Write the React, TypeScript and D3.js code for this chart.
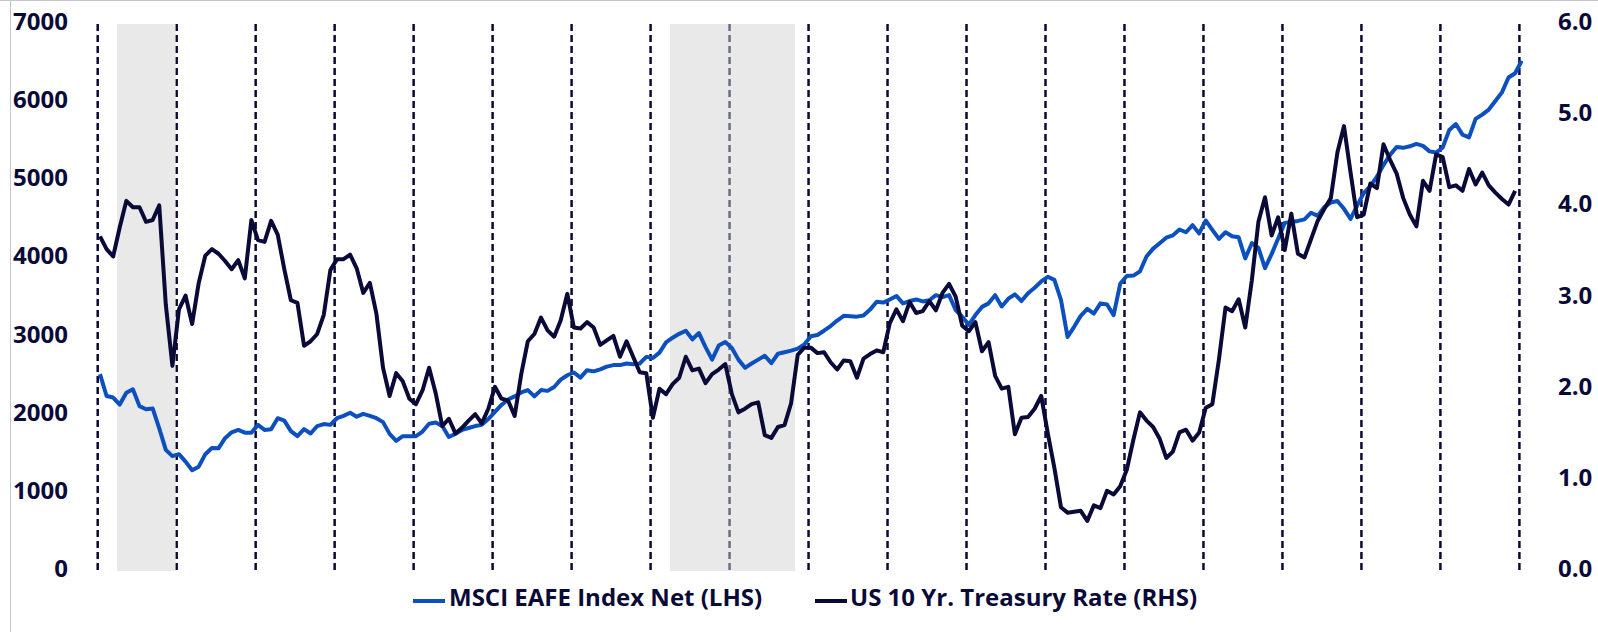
import React from "react";
import * as d3 from "d3";

// monthly observations, Jan 2008 onwards
const MSCI_EAFE = [
  2520, 2240, 2220, 2130, 2280, 2325, 2110, 2070, 2080, 1825, 1550, 1470,
  1495, 1400, 1290, 1335, 1495, 1575, 1570, 1700, 1775, 1805, 1770, 1770,
  1870, 1805, 1815, 1955, 1925, 1790, 1725, 1815, 1760, 1855, 1880, 1870,
  1955, 1985, 2025, 1975, 2010, 1985, 1955, 1905, 1755, 1665, 1725, 1725,
  1725, 1785, 1885, 1900, 1855, 1715, 1755, 1805, 1830, 1855, 1870, 1945,
  2035, 2125, 2195, 2235, 2285, 2315, 2235, 2315, 2305, 2355, 2450, 2505,
  2540, 2475, 2570, 2555, 2580, 2615, 2635, 2635, 2655, 2645, 2655, 2740,
  2725, 2795, 2925, 2985, 3035, 3075, 2965, 3045, 2865, 2705, 2885, 2930,
  2855, 2705, 2600, 2655, 2705, 2755, 2660, 2780, 2800, 2820, 2845, 2900,
  3005, 3020, 3075, 3135, 3205, 3265, 3260, 3255, 3270, 3345, 3445, 3435,
  3475, 3520, 3425, 3455, 3475, 3450, 3465, 3530, 3505, 3530, 3340, 3255,
  3150, 3275, 3380, 3425, 3530, 3385, 3485, 3540, 3455, 3555, 3625, 3705,
  3765, 3725, 3470, 2995, 3125, 3265, 3355, 3295, 3425, 3410, 3275, 3675,
  3775, 3780, 3835, 4025, 4125, 4195, 4265, 4295, 4370, 4335, 4425, 4320,
  4485, 4365, 4250, 4335, 4285, 4270, 4000, 4195, 4135, 3875, 4055, 4255,
  4455, 4465, 4480, 4500, 4585, 4545, 4655, 4715, 4735, 4635, 4505, 4675,
  4835, 4925, 5045, 5195, 5325, 5425, 5415, 5435, 5465, 5440, 5370, 5355,
  5420, 5645, 5720, 5585, 5550, 5785, 5840, 5905, 6015, 6125, 6315, 6370,
  6530,
];

const UST_10Y = [
  3.67, 3.53, 3.45, 3.77, 4.06, 3.99, 3.99, 3.83, 3.85, 4.01, 2.92, 2.25,
  2.87, 3.02, 2.71, 3.16, 3.46, 3.53, 3.48, 3.40, 3.31, 3.41, 3.21, 3.85,
  3.63, 3.61, 3.84, 3.69, 3.31, 2.97, 2.94, 2.47, 2.52, 2.60, 2.81, 3.30,
  3.42, 3.42, 3.47, 3.32, 3.05, 3.16, 2.82, 2.23, 1.92, 2.17, 2.08, 1.89,
  1.83, 1.98, 2.23, 1.95, 1.59, 1.67, 1.51, 1.57, 1.65, 1.72, 1.62, 1.78,
  2.02, 1.89, 1.87, 1.70, 2.16, 2.52, 2.60, 2.78, 2.64, 2.57, 2.75, 3.04,
  2.67, 2.66, 2.73, 2.67, 2.48, 2.53, 2.58, 2.35, 2.52, 2.35, 2.18, 2.17,
  1.68, 2.00, 1.94, 2.05, 2.12, 2.35, 2.20, 2.22, 2.06, 2.16, 2.21, 2.27,
  1.94, 1.74, 1.78, 1.83, 1.85, 1.49, 1.46, 1.58, 1.60, 1.84, 2.37, 2.45,
  2.45, 2.39, 2.40, 2.29, 2.21, 2.31, 2.30, 2.12, 2.33, 2.38, 2.42, 2.40,
  2.72, 2.87, 2.74, 2.95, 2.83, 2.85, 2.96, 2.86, 3.05, 3.15, 3.01, 2.69,
  2.63, 2.73, 2.41, 2.51, 2.14, 2.00, 2.02, 1.50, 1.68, 1.69, 1.78, 1.92,
  1.51, 1.13, 0.70, 0.64, 0.65, 0.66, 0.55, 0.72, 0.69, 0.88, 0.84, 0.93,
  1.11, 1.44, 1.74, 1.65, 1.58, 1.45, 1.24, 1.31, 1.52, 1.55, 1.43, 1.52,
  1.79, 1.83, 2.32, 2.89, 2.85, 2.98, 2.67, 3.19, 3.83, 4.10, 3.68, 3.88,
  3.52, 3.92, 3.48, 3.44, 3.64, 3.84, 3.97, 4.09, 4.59, 4.88, 4.37, 3.88,
  3.91, 4.25, 4.20, 4.68, 4.51, 4.36, 4.09, 3.91, 3.78, 4.28, 4.17, 4.57,
  4.54, 4.21, 4.23, 4.17, 4.41, 4.24, 4.37, 4.23, 4.15, 4.08, 4.02, 4.17,
];

const YEARS = d3.range(2008, 2027); // dashed year dividers
const SHADED = [
  [2.6, 11.5],
  [86.6, 105.6],
]; // month offsets
const LEFT_TICKS = d3.range(0, 7001, 1000);
const RIGHT_TICKS = d3.range(0, 6.5, 1);
const SERIES_NAMES = ["MSCI EAFE Index Net (LHS)", "US 10 Yr. Treasury Rate (RHS)"];

const W = 1598;
const H = 632;
const NAVY = "#0a0a38";
const BLUE = "#0b50be";
const FONT = "'Open Sans', Lato, sans-serif";

export default function App() {
  const x = d3.scaleLinear().domain([0, 216]).range([100, 1521.7]);
  const yL = d3.scaleLinear().domain([0, 7000]).range([571, 24]);
  const yR = d3.scaleLinear().domain([0, 6]).range([571, 24]);

  const eafeLine = d3
    .line<number>()
    .x((_, i) => x(i))
    .y((d) => yL(d));
  const rateLine = d3
    .line<number>()
    .x((_, i) => x(i))
    .y((d) => yR(d));

  const yearX = (yr: number) => x((yr - 2008) * 12 - 0.35);

  return (
    <svg width={W} height={H} style={{ display: "block", background: "#fff" }}>
      <style>{`body{margin:0}`}</style>
      {/* frame edges */}
      <line x1={0} x2={W} y1={0.5} y2={0.5} stroke="#c4c8cc" strokeWidth={1} />
      <line x1={10.5} x2={10.5} y1={0} y2={H} stroke="#c4c8cc" strokeWidth={1} />

      {YEARS.map((yr) => (
        <line
          key={yr}
          x1={yearX(yr)}
          x2={yearX(yr)}
          y1={yL(7000)}
          y2={yL(0)}
          stroke={NAVY}
          strokeWidth={2.5}
          strokeDasharray="7,4"
        />
      ))}

      {SHADED.map(([a, b], i) => (
        <rect
          key={i}
          x={x(a)}
          y={yL(7000)}
          width={x(b) - x(a)}
          height={yL(0) - yL(7000)}
          fill="rgb(210,210,210)"
          fillOpacity={0.49}
        />
      ))}

      <path d={eafeLine(MSCI_EAFE) || ""} fill="none" stroke={BLUE} strokeWidth={4} strokeLinejoin="round" />
      <path d={rateLine(UST_10Y) || ""} fill="none" stroke={NAVY} strokeWidth={4} strokeLinejoin="round" />

      <g fontFamily={FONT} fontWeight={700} fontSize={24} fill={NAVY}>
        {LEFT_TICKS.map((t) => (
          <text key={t} x={68} y={yL(t) + 6} textAnchor="end">
            {t}
          </text>
        ))}
        {RIGHT_TICKS.map((t) => (
          <text key={t} x={1558} y={yR(t) + 6}>
            {d3.format(".1f")(t)}
          </text>
        ))}
      </g>

      <g fontFamily={FONT} fontWeight={700} fontSize={24} fill={NAVY}>
        <line x1={413} x2={445} y1={601} y2={601} stroke={BLUE} strokeWidth={4} />
        <text x={449} y={606}>{SERIES_NAMES[0]}</text>
        <line x1={815} x2={847} y1={601} y2={601} stroke={NAVY} strokeWidth={4} />
        <text x={850} y={606}>{SERIES_NAMES[1]}</text>
      </g>
    </svg>
  );
}
